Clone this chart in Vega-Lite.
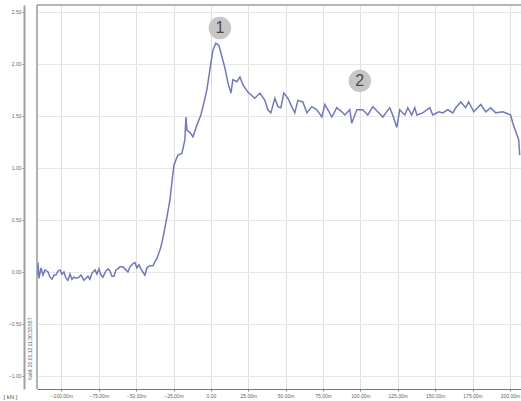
{"$schema":"https://vega.github.io/schema/vega-lite/v6.json","width":484,"height":384,"autosize":"none","padding":{"left":37,"top":5,"right":0,"bottom":12},"background":"white","config":{"view":{"stroke":null}},
"datasets":{"trace":[
{"t":-116.3,"v":-0.03},{"t":-115.6,"v":0.09},{"t":-115.0,"v":-0.06},{"t":-113.6,"v":0.04},{"t":-112.3,"v":-0.03},{"t":-111.0,"v":0.02},{"t":-108.9,"v":0.0},{"t":-107.6,"v":-0.05},{"t":-106.3,"v":-0.07},{"t":-104.9,"v":-0.03},{"t":-103.6,"v":-0.03},{"t":-102.3,"v":0.01},{"t":-100.9,"v":0.02},{"t":-99.6,"v":-0.02},{"t":-98.3,"v":0.0},{"t":-96.9,"v":-0.06},{"t":-95.6,"v":-0.08},{"t":-94.2,"v":-0.02},{"t":-92.9,"v":-0.07},{"t":-91.6,"v":-0.05},{"t":-90.2,"v":-0.06},{"t":-88.2,"v":-0.05},{"t":-86.9,"v":-0.03},{"t":-84.9,"v":-0.08},{"t":-83.5,"v":-0.06},{"t":-82.2,"v":-0.04},{"t":-80.9,"v":-0.07},{"t":-79.5,"v":-0.01},{"t":-77.5,"v":0.02},{"t":-76.2,"v":-0.02},{"t":-74.9,"v":0.03},{"t":-73.5,"v":-0.03},{"t":-72.2,"v":-0.05},{"t":-70.2,"v":0.01},{"t":-68.8,"v":0.03},{"t":-67.5,"v":0.01},{"t":-66.2,"v":-0.04},{"t":-64.8,"v":-0.04},{"t":-63.5,"v":0.02},{"t":-62.2,"v":0.03},{"t":-60.8,"v":0.05},{"t":-58.8,"v":0.05},{"t":-57.5,"v":0.03},{"t":-55.5,"v":0.0},{"t":-54.1,"v":0.05},{"t":-52.1,"v":0.08},{"t":-50.8,"v":0.09},{"t":-49.5,"v":0.04},{"t":-48.1,"v":0.07},{"t":-46.8,"v":0.03},{"t":-45.5,"v":0.0},{"t":-44.1,"v":-0.03},{"t":-42.8,"v":0.04},{"t":-40.8,"v":0.06},{"t":-38.8,"v":0.06},{"t":-37.4,"v":0.10},{"t":-36.1,"v":0.13},{"t":-34.1,"v":0.21},{"t":-32.8,"v":0.28},{"t":-31.4,"v":0.375},{"t":-29.4,"v":0.53},{"t":-27.4,"v":0.69},{"t":-26.1,"v":0.86},{"t":-24.7,"v":1.03},{"t":-22.1,"v":1.125},{"t":-19.4,"v":1.14},{"t":-17.4,"v":1.27},{"t":-16.7,"v":1.49},{"t":-16.0,"v":1.365},{"t":-14.0,"v":1.34},{"t":-12.0,"v":1.30},{"t":-9.4,"v":1.41},{"t":-6.7,"v":1.51},{"t":-5.3,"v":1.59},{"t":-2.7,"v":1.75},{"t":-0.7,"v":1.94},{"t":1.3,"v":2.13},{"t":3.3,"v":2.20},{"t":5.3,"v":2.18},{"t":7.4,"v":2.07},{"t":9.4,"v":1.96},{"t":11.4,"v":1.82},{"t":13.4,"v":1.72},{"t":14.7,"v":1.85},{"t":17.4,"v":1.83},{"t":19.4,"v":1.875},{"t":21.4,"v":1.80},{"t":24.7,"v":1.73},{"t":29.4,"v":1.67},{"t":32.8,"v":1.72},{"t":36.1,"v":1.65},{"t":38.1,"v":1.56},{"t":40.1,"v":1.53},{"t":42.8,"v":1.67},{"t":44.8,"v":1.59},{"t":46.8,"v":1.58},{"t":48.8,"v":1.72},{"t":51.5,"v":1.67},{"t":54.1,"v":1.59},{"t":56.1,"v":1.53},{"t":58.2,"v":1.65},{"t":61.5,"v":1.635},{"t":64.2,"v":1.53},{"t":67.5,"v":1.59},{"t":70.9,"v":1.56},{"t":74.2,"v":1.49},{"t":76.2,"v":1.61},{"t":78.2,"v":1.56},{"t":80.9,"v":1.49},{"t":84.2,"v":1.58},{"t":87.6,"v":1.54},{"t":89.6,"v":1.51},{"t":92.9,"v":1.56},{"t":94.2,"v":1.43},{"t":97.6,"v":1.56},{"t":101.6,"v":1.56},{"t":104.9,"v":1.51},{"t":108.3,"v":1.59},{"t":111.6,"v":1.54},{"t":115.0,"v":1.49},{"t":119.6,"v":1.58},{"t":121.6,"v":1.51},{"t":124.3,"v":1.39},{"t":126.3,"v":1.56},{"t":129.7,"v":1.51},{"t":131.7,"v":1.58},{"t":134.3,"v":1.51},{"t":136.4,"v":1.58},{"t":137.7,"v":1.51},{"t":141.7,"v":1.53},{"t":146.4,"v":1.58},{"t":148.4,"v":1.51},{"t":152.4,"v":1.54},{"t":155.1,"v":1.53},{"t":158.4,"v":1.56},{"t":161.8,"v":1.53},{"t":163.8,"v":1.58},{"t":167.1,"v":1.635},{"t":170.4,"v":1.58},{"t":172.4,"v":1.635},{"t":175.8,"v":1.54},{"t":180.5,"v":1.61},{"t":183.8,"v":1.54},{"t":187.1,"v":1.58},{"t":190.5,"v":1.53},{"t":195.2,"v":1.54},{"t":200.5,"v":1.51},{"t":201.9,"v":1.43},{"t":203.9,"v":1.35},{"t":205.9,"v":1.27},{"t":206.5,"v":1.125}],
"marks":[{"t":6,"v":2.346,"label":"1"},{"t":99.6,"v":1.837,"label":"2"}],
"notes":[{"t":-134,"v":-1.2,"label":"[ kN ]","angle":0,"size":6},{"t":-121,"v":-0.74,"label":"KaM: 20.01.12 11:30:33:557","angle":270,"size":5}]},
"layer":[
{"data":{"name":"trace"},"mark":{"type":"line","color":"#5b60ad","strokeWidth":1.5,"opacity":0.85,"clip":true},
"encoding":{"x":{"field":"t","type":"quantitative","title":null,"scale":{"domain":[-116.3,207.4],"nice":false,"zero":false},
"axis":{"values":[-100,-75,-50,-25,0,25,50,75,100,125,150,175,200],"labelExpr":"datum.value==0?'0.00':format(datum.value,'.2f')+'m'","labelFontSize":5,"labelColor":"#666","labelFont":"Liberation Sans","labelOverlap":false,"labelFlush":false,"labelPadding":2,"tickSize":2,"tickColor":"#888","domainColor":"#777","domainWidth":1,"grid":true,"gridColor":"#e0e0e0","gridWidth":1}},
"y":{"field":"v","type":"quantitative","title":null,"scale":{"domain":[-1.125,2.567],"nice":false,"zero":false},
"axis":{"values":[-1,-0.75,-0.5,-0.25,0,0.25,0.5,0.75,1,1.25,1.5,1.75,2,2.25,2.5],"format":".2f","offset":13,"labelFontSize":5,"labelColor":"#666","labelFont":"Liberation Sans","labelOverlap":false,"labelFlush":false,"labelPadding":1,"tickSize":2,"tickColor":"#888","domainColor":"#a0a0a0","domainWidth":2,"grid":true,"gridColor":"#e8e8e8","gridWidth":1}}}},
{"data":{"values":[{"v":2.567}]},"mark":{"type":"rule","color":"#b5b5b5","strokeWidth":2},"encoding":{"y":{"field":"v","type":"quantitative"}}},
{"data":{"values":[{"t":-116.3}]},"mark":{"type":"rule","color":"#9a9a9a","strokeWidth":1.5},"encoding":{"x":{"field":"t","type":"quantitative"}}},
{"data":{"name":"marks"},"mark":{"type":"point","filled":true,"size":500,"color":"#c6c6c6","opacity":1},"encoding":{"x":{"field":"t","type":"quantitative"},"y":{"field":"v","type":"quantitative"}}},
{"data":{"name":"marks"},"mark":{"type":"text","font":"Liberation Sans","fontSize":16,"color":"#4a4a4a"},"encoding":{"x":{"field":"t","type":"quantitative"},"y":{"field":"v","type":"quantitative"},"text":{"field":"label"}}},
{"data":{"name":"notes"},"mark":{"type":"text","font":"Liberation Sans","color":"#555"},"encoding":{"x":{"field":"t","type":"quantitative"},"y":{"field":"v","type":"quantitative"},"text":{"field":"label"},"size":{"field":"size","type":"quantitative","scale":null},"angle":{"field":"angle","type":"quantitative","scale":null}}}
]}
